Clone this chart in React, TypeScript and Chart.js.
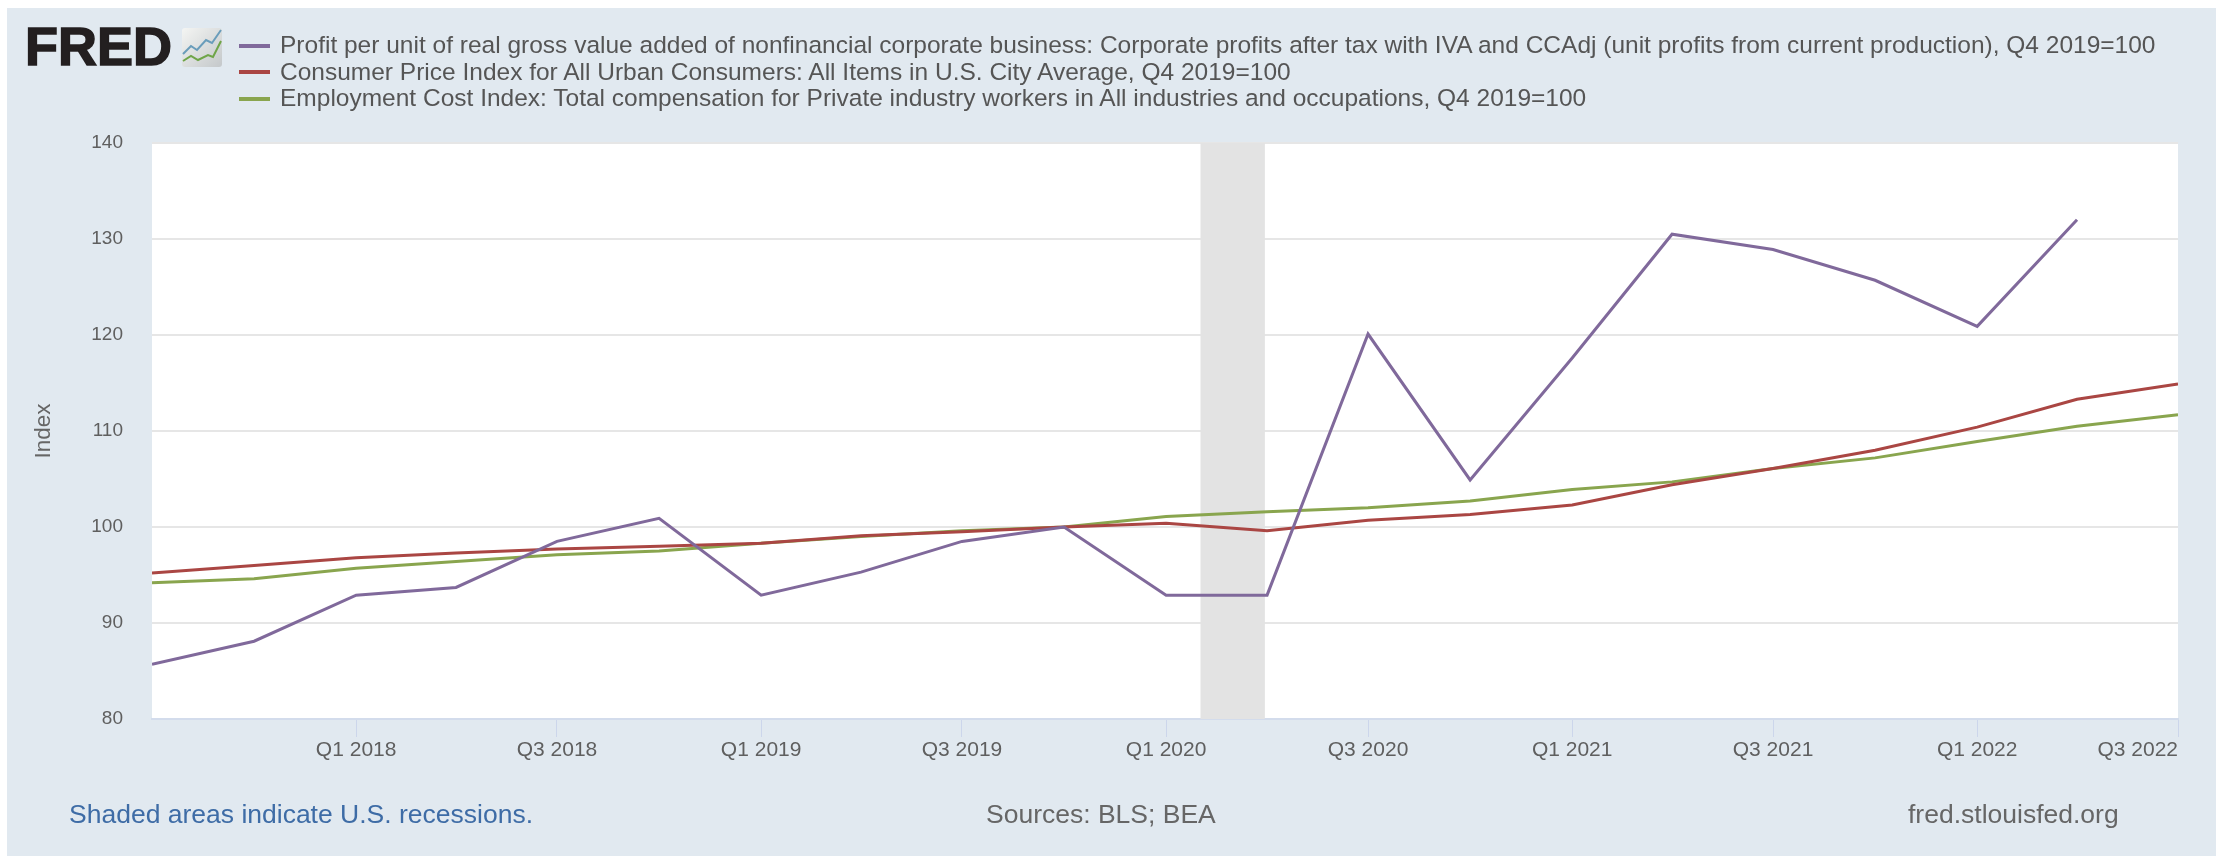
import React, { useEffect, useRef } from "react";
import { Chart, registerables } from "chart.js";

Chart.register(...registerables);

const quarters = ["2017-07-01","2017-10-01","2018-01-01","2018-04-01","2018-07-01","2018-10-01","2019-01-01","2019-04-01","2019-07-01","2019-10-01","2020-01-01","2020-04-01","2020-07-01","2020-10-01","2021-01-01","2021-04-01","2021-07-01","2021-10-01","2022-01-01","2022-04-01","2022-07-01"];
const profitValues = [85.7,88.1,92.9,93.7,98.5,100.9,92.9,95.3,98.5,100,92.9,92.9,120.1,104.9,117.6,130.5,128.9,125.7,120.9,132.0,null];
const cpiValues = [95.2,96.0,96.8,97.3,97.7,98.0,98.3,99.1,99.5,100,100.4,99.6,100.7,101.3,102.3,104.4,106.1,108.0,110.4,113.3,114.9];
const eciValues = [94.2,94.6,95.7,96.4,97.1,97.5,98.3,99.0,99.6,100,101.1,101.6,102.0,102.7,103.9,104.7,106.1,107.2,108.9,110.5,111.7];
const xTickDates = ["2018-01-01","2018-07-01","2019-01-01","2019-07-01","2020-01-01","2020-07-01","2021-01-01","2021-07-01","2022-01-01","2022-07-01"];
const xTickLabels = ["Q1 2018","Q3 2018","Q1 2019","Q3 2019","Q1 2020","Q3 2020","Q1 2021","Q3 2021","Q1 2022","Q3 2022"];
const recession = ["2020-02-01","2020-03-30"];
const seriesNames = [
  "Profit per unit of real gross value added of nonfinancial corporate business: Corporate profits after tax with IVA and CCAdj (unit profits from current production), Q4 2019=100",
  "Consumer Price Index for All Urban Consumers: All Items in U.S. City Average, Q4 2019=100",
  "Employment Cost Index: Total compensation for Private industry workers in All industries and occupations, Q4 2019=100",
];
const seriesColors = ["#80699B", "#AA4643", "#89A54E"];

const FONT = '"Liberation Sans", Arial, sans-serif';
const ms = (d: string) => Date.parse(d + "T00:00:00Z");

const absolute = (left: number, top: number, extra: any = {}) => ({ position: "absolute", left, top, whiteSpace: "nowrap", fontFamily: FONT, ...extra });

export default function App() {
  const ref = useRef<HTMLCanvasElement>(null);
  useEffect(() => {
    document.body.style.margin = "0";
    const tickVals = xTickDates.map(ms);
    const labelOf = (v: number) => xTickLabels[tickVals.indexOf(v)] ?? "";
    const overlay = {
      id: "overlay",
      beforeDatasetsDraw(c: any) {
        const { ctx, chartArea: a, scales } = c;
        const x0 = scales.x.getPixelForValue(ms(recession[0]));
        const x1 = scales.x.getPixelForValue(ms(recession[1]));
        ctx.save();
        ctx.fillStyle = "#e3e3e3";
        ctx.fillRect(x0, a.top, x1 - x0, a.bottom - a.top);
        ctx.restore();
      },
      afterDraw(c: any) {
        const { ctx, chartArea: a } = c;
        ctx.save();
        ctx.font = `21px ${FONT}`;
        ctx.fillStyle = "#5f5f5f";
        ctx.textAlign = "right";
        ctx.textBaseline = "middle";
        ctx.fillText(xTickLabels[xTickLabels.length - 1], a.right, 750);
        ctx.restore();
      },
    };
    const chart = new Chart(ref.current!, {
      type: "line",
      data: {
        datasets: [profitValues, cpiValues, eciValues].map((vals, i) => ({
          label: seriesNames[i],
          data: vals.map((y, j) => ({ x: ms(quarters[j]), y })),
          borderColor: seriesColors[i],
          borderWidth: 3,
          pointRadius: 0,
          tension: 0,
          spanGaps: false,
        })),
      },
      options: {
        animation: false,
        responsive: false,
        layout: { padding: { left: 0, right: 38, top: 143, bottom: 0 } },
        plugins: { legend: { display: false }, tooltip: { enabled: false } },
        scales: {
          x: {
            type: "linear",
            min: ms(quarters[0]),
            max: ms(quarters[quarters.length - 1]),
            afterFit: (s: any) => { s.height = 137; },
            afterBuildTicks: (s: any) => { s.ticks = tickVals.map((value) => ({ value })); },
            grid: { drawOnChartArea: false, drawTicks: true, tickLength: 18, tickColor: "#ccd6eb", tickWidth: 1 },
            border: { color: "#d3dcec", width: 2 },
            ticks: {
              autoSkip: false,
              maxRotation: 0,
              padding: 1,
              color: "#5f5f5f",
              font: { family: FONT, size: 21 },
              callback: (v: any) => { const l = labelOf(v); return l === xTickLabels[xTickLabels.length - 1] ? "" : l; },
            },
          },
          y: {
            min: 80,
            max: 140,
            afterFit: (s: any) => { s.width = 152; },
            grid: { color: "#e6e6e6", lineWidth: 2, drawTicks: false },
            border: { display: false },
            ticks: { stepSize: 10, padding: 29, color: "#5f5f5f", font: { family: FONT, size: 19 } },
            title: { display: true, text: "Index", color: "#666666", font: { family: FONT, size: 22.5 }, padding: { top: 30, bottom: 0 } },
          },
        },
      },
      plugins: [
        { id: "white", beforeDraw(c: any) { const { ctx, chartArea: a } = c; ctx.save(); ctx.fillStyle = "#fff"; ctx.fillRect(a.left, a.top, a.right - a.left, a.bottom - a.top); ctx.restore(); } },
        overlay,
      ],
    } as any);
    return () => chart.destroy();
  }, []);

  return (
    <div style={{ position: "absolute", left: 0, top: 0, width: 2216, height: 856, background: "#fff", overflow: "hidden" }}>
      <div style={{ position: "absolute", left: 7, top: 8, right: 0, bottom: 0, background: "#e1e9f0" }} />
      <canvas ref={ref} width={2216} height={856} style={{ position: "absolute", left: 0, top: 0, display: "block" }} />
      <div style={absolute(25, 13, { fontSize: 54, fontWeight: 700, color: "#231f20", lineHeight: "66px", WebkitTextStroke: "1.5px #231f20" }) as any}>FRED</div>
      <svg width="40" height="39" viewBox="0 0 40 39" style={{ position: "absolute", left: 182, top: 28 }}>
        <defs>
          <linearGradient id="tile" x1="0" y1="0" x2="1" y2="1">
            <stop offset="0" stopColor="#f4f5f3" />
            <stop offset="1" stopColor="#c4c8ca" />
          </linearGradient>
        </defs>
        <rect x="0" y="0" width="40" height="39" rx="3" fill="url(#tile)" />
        <polyline points="1,26 9,18 15,22 24,12 30,15 39,2" fill="none" stroke="#6a9dbb" strokeWidth="2" />
        <polyline points="1,33 9,28 16,32 26,27 31,29 39,13" fill="none" stroke="#6fa548" strokeWidth="2" />
      </svg>
      {seriesNames.map((name, i) => (
        <React.Fragment key={name}>
          <div style={{ position: "absolute", left: 239, top: 43.5 + i * 26.7, width: 31, height: 4, background: seriesColors[i] }} />
          <div style={absolute(280, 31 + i * 26.7, { fontSize: 24.5, lineHeight: "28px", color: "#555" }) as any}>{name}</div>
        </React.Fragment>
      ))}
      <div style={absolute(69, 800, { fontSize: 26.5, lineHeight: "28px", color: "#3e6ca6" }) as any}>Shaded areas indicate U.S. recessions.</div>
      <div style={absolute(986, 800, { fontSize: 26.5, lineHeight: "28px", color: "#666" }) as any}>Sources: BLS; BEA</div>
      <div style={absolute(1908, 800, { fontSize: 26.5, lineHeight: "28px", color: "#666" }) as any}>fred.stlouisfed.org</div>
    </div>
  );
}
